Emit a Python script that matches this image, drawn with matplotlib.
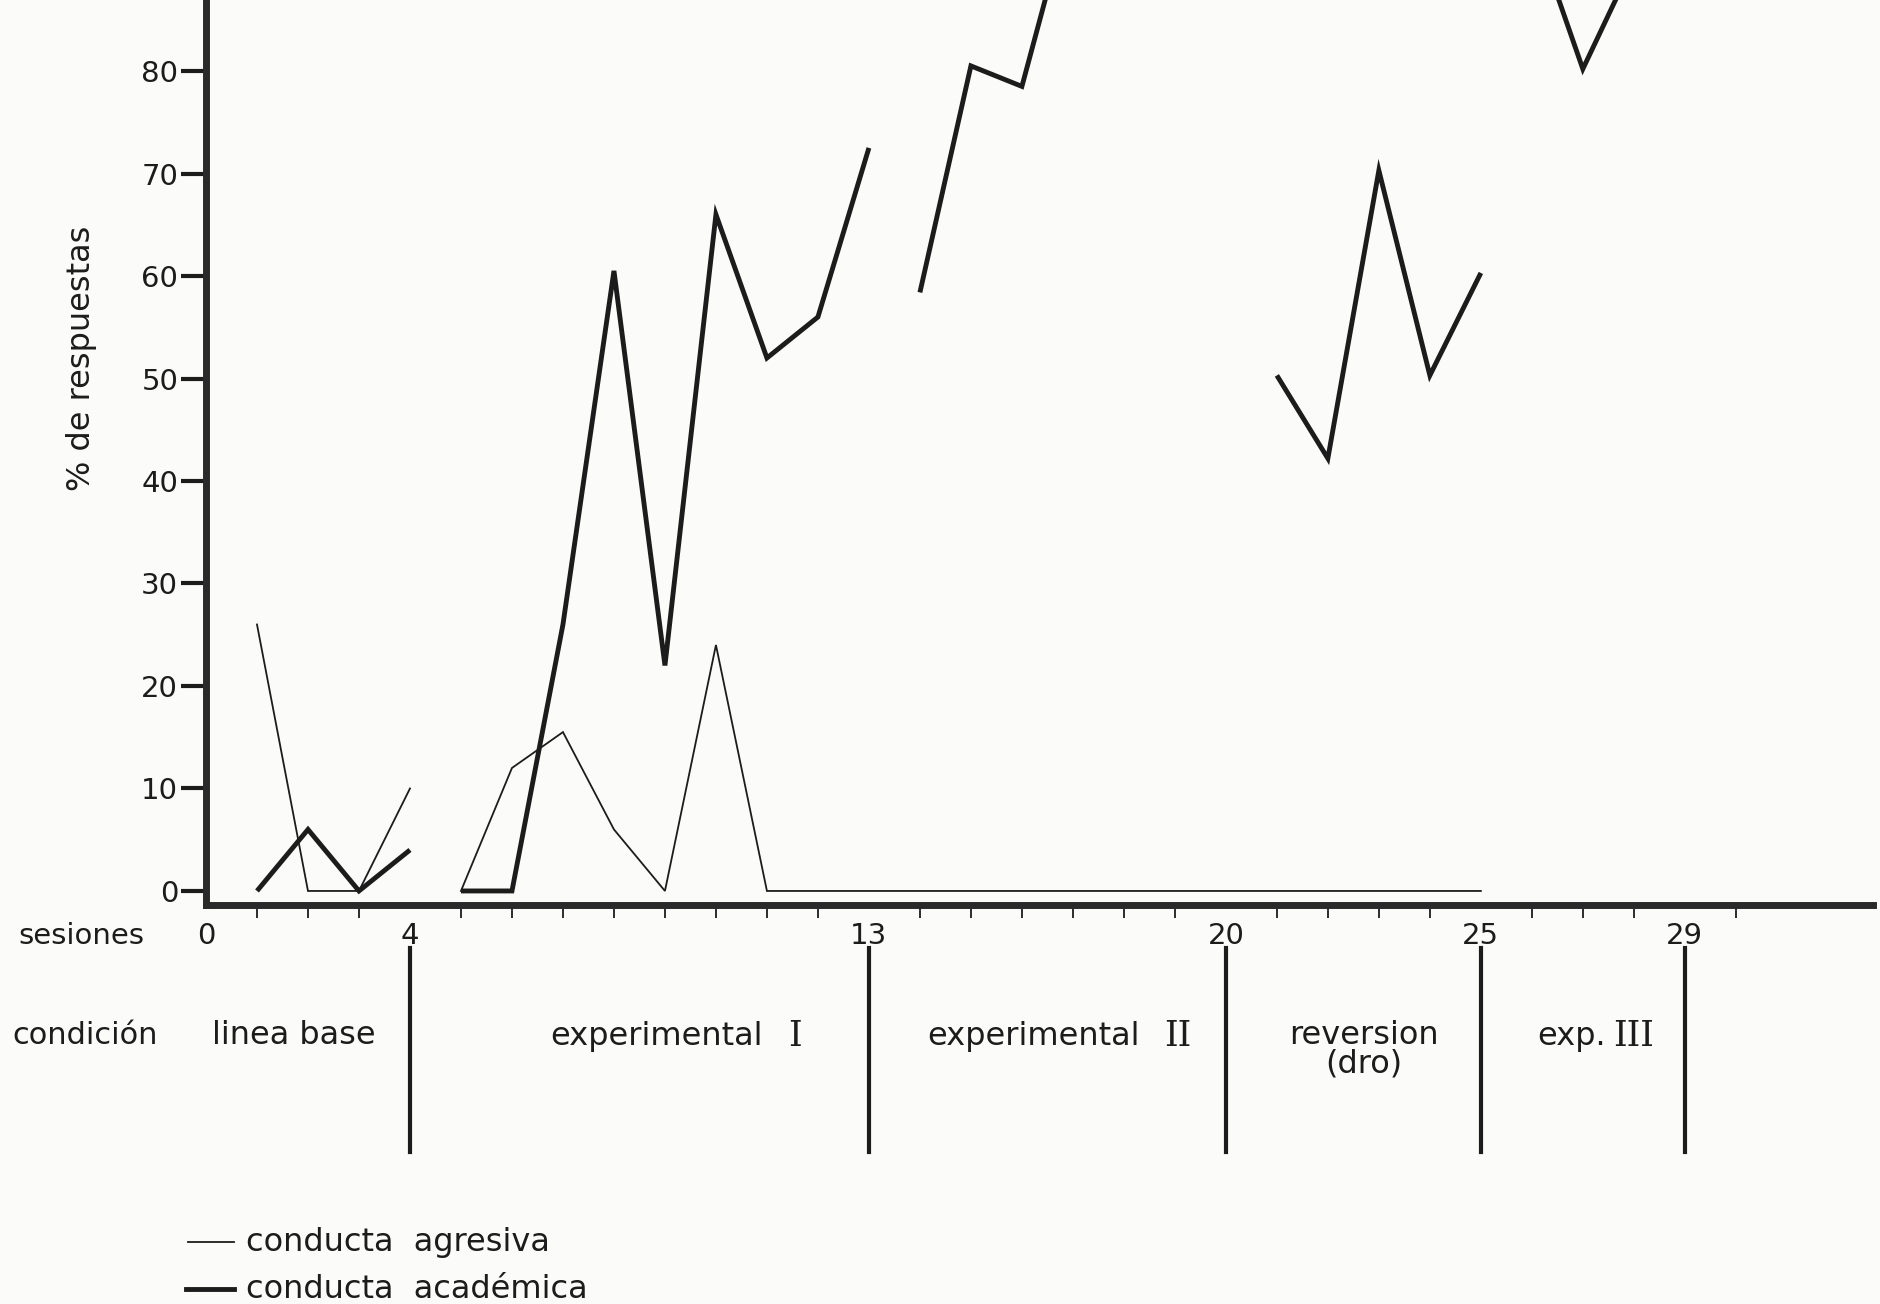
import numpy as np
import matplotlib
matplotlib.use('Agg')
import matplotlib.pyplot as plt
import matplotlib.transforms as mtransforms

nan = np.nan
sessions = np.arange(1, 31)
academica = [0, 6, 0, 4, 0, 0, 26, 60.5, 22, 66, 52, 56, 72.5, 58.4, 80.5, 78.5,
             97, nan, nan, nan, 50.3, 42.2, 70.3, 50.3, 60.3, 94.5, 80.2, 90.7, nan, nan]
agresiva = [26, 0, 0, 10, 0, 12, 15.5, 6, 0, 24, 0, 0, 0, 0, 0, 0, 0, 0, 0, 0,
            0, 0, 0, 0, 0, nan, nan, nan, nan, nan]
acad_phases = [(1, 4), (5, 13), (14, 20), (21, 25), (26, 29)]
agr_phases = [(1, 4), (5, 25)]
phase_bounds = [4, 13, 20, 25, 29]
xtick_pos = [0, 4, 13, 20, 25, 29]
xtick_labels = ['0', '4', '13', '20', '25', '29']
yticks = [0, 10, 20, 30, 40, 50, 60, 70, 80]

ink = '#1c1c1c'
W, H = 1881, 1304
fig = plt.figure(figsize=(W / 100, H / 100), dpi=100, facecolor='#fbfbf9')
ax = fig.add_axes([206 / W, 1 - 905 / H, (1873 - 206) / W, 905 / H])
ax.set_facecolor('none')
ax.set_xlim(0, 32.69)
ax.set_ylim(-1.37, 86.93)

s = np.array(sessions)
acad = np.array(academica)
agr = np.array(agresiva)
for a, b in acad_phases:
    m = (s >= a) & (s <= b)
    ax.plot(s[m], acad[m], color=ink, lw=3.5, solid_joinstyle='miter', solid_capstyle='butt')
for a, b in agr_phases:
    m = (s >= a) & (s <= b)
    ax.plot(s[m], agr[m], color=ink, lw=1.3, solid_joinstyle='miter')

for sp in ['top', 'right']:
    ax.spines[sp].set_visible(False)
for sp in ['left', 'bottom']:
    ax.spines[sp].set_linewidth(5)
    ax.spines[sp].set_color('#2a2a2a')

ax.set_yticks(yticks)
ax.tick_params(axis='y', length=18, width=3, pad=2, labelsize=21, colors=ink)
ax.set_xticks(xtick_pos)
ax.set_xticklabels(xtick_labels)
ax.set_xticks(range(1, 31), minor=True)
ax.tick_params(axis='x', which='major', length=0, pad=12, labelsize=21, colors=ink)
ax.tick_params(axis='x', which='minor', length=9, width=1.3, colors=ink)

fig.text(82 / W, 1 - 358 / H, '% de respuestas', fontsize=23, color=ink,
         rotation=90, ha='center', va='center')

blend = mtransforms.blended_transform_factory(ax.transData, fig.transFigure)
for xb in phase_bounds:
    ax.plot([xb, xb], [1 - 948 / H, 1 - 1152 / H], color=ink, lw=3, transform=blend, clip_on=False)

fs = 23
fig.text(18 / W, 1 - 936 / H, 'sesiones', fontsize=21, color=ink, ha='left', va='center')
yc = 1 - 1036 / H
fig.text(12 / W, yc, 'condición', fontsize=22, color=ink, ha='left', va='center')
ax.text(1.73, yc, 'linea base', fontsize=fs, color=ink, ha='center', va='center', transform=blend)
ax.text(8.84, yc, 'experimental', fontsize=fs, color=ink, ha='center', va='center', transform=blend)
ax.text(11.55, yc, 'I', fontsize=25, color=ink, ha='center', va='center', transform=blend, family='DejaVu Serif')
ax.text(16.22, yc, 'experimental', fontsize=fs, color=ink, ha='center', va='center', transform=blend)
ax.text(19.06, yc, 'II', fontsize=25, color=ink, ha='center', va='center', transform=blend, family='DejaVu Serif')
ax.text(22.7, yc, 'reversion', fontsize=fs, color=ink, ha='center', va='center', transform=blend)
ax.text(22.7, 1 - 1064 / H, '(dro)', fontsize=fs, color=ink, ha='center', va='center', transform=blend)
ax.text(26.78, yc, 'exp.', fontsize=fs, color=ink, ha='center', va='center', transform=blend)
ax.text(28.0, yc, 'III', fontsize=25, color=ink, ha='center', va='center', transform=blend, family='DejaVu Serif')

# legend
ly1, ly2 = 1 - 1242 / H, 1 - 1289 / H
fig.add_artist(plt.Line2D([188 / W, 234 / W], [ly1, ly1], color=ink, lw=1.3))
fig.add_artist(plt.Line2D([186 / W, 234 / W], [ly2, ly2], color=ink, lw=3.5))
fig.text(246 / W, ly1, 'conducta  agresiva', fontsize=fs, color=ink, ha='left', va='center')
fig.text(246 / W, ly2, 'conducta  académica', fontsize=fs, color=ink, ha='left', va='center')

fig.savefig('out.png', dpi=100, facecolor=fig.get_facecolor())
